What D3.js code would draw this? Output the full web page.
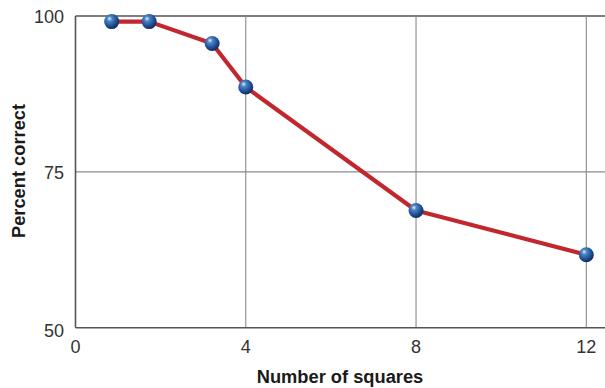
<!DOCTYPE html>
<html><head><meta charset="utf-8">
<script src="https://cdn.jsdelivr.net/npm/d3@7"></script>
<style>body{margin:0;background:#fff}svg{display:block}</style>
</head><body>
<script>
const squares = [0.85, 1.73, 3.21, 4, 8, 12];
const percentCorrect = [99.1, 99.1, 95.6, 88.6, 68.8, 61.7];
const xTicks = [0, 4, 8, 12];
const yTicks = [50, 75, 100];
const xTitle = "Number of squares";
const yTitle = "Percent correct";

const W = 605, H = 388;
const svg = d3.select("body").append("svg").attr("width", W).attr("height", H);
const defs = svg.append("defs");
const g = defs.append("radialGradient").attr("id","ball").attr("cx","40%").attr("cy","35%").attr("r","65%").attr("fx","35%").attr("fy","30%");
g.append("stop").attr("offset","0%").attr("stop-color","#e8f0ff");
g.append("stop").attr("offset","25%").attr("stop-color","#4f86c6");
g.append("stop").attr("offset","70%").attr("stop-color","#1d4f93");
g.append("stop").attr("offset","100%").attr("stop-color","#0f2d5c");

const x = d3.scaleLinear().domain([0, 12]).range([75.5, 586.3]);
const y = d3.scaleLinear().domain([50, 100]).range([327.7, 16]);
const font = "Liberation Sans, Arial, Helvetica, sans-serif";

// horizontal grid lines
svg.append("g").selectAll("line").data(yTicks.filter(d => d > 50)).join("line")
  .attr("x1", x(0)).attr("x2", W).attr("y1", d => y(d)).attr("y2", d => y(d))
  .attr("stroke", d => d === 100 ? "#555" : "#8a8a8a").attr("stroke-width", d => d === 100 ? 1.6 : 1.1);
// vertical grid lines
svg.append("g").selectAll("line").data(xTicks.filter(d => d > 0)).join("line")
  .attr("x1", d => x(d)).attr("x2", d => x(d)).attr("y1", y(100)).attr("y2", y(50))
  .attr("stroke", "#8a8a8a").attr("stroke-width", 1.1);
// axes lines
svg.append("line").attr("x1", x(0)).attr("x2", x(0)).attr("y1", y(100)).attr("y2", y(50))
  .attr("stroke", "#555").attr("stroke-width", 1.6);
svg.append("line").attr("x1", x(0)).attr("x2", W).attr("y1", y(50)).attr("y2", y(50))
  .attr("stroke", "#555").attr("stroke-width", 1.6);

// tick labels
svg.append("g").selectAll("text").data(yTicks).join("text")
  .attr("x", 64).attr("y", d => y(d) + (d === 50 ? 3 : 0.5)).attr("dy", "0.36em")
  .attr("text-anchor", "end").attr("font-family", font).attr("font-size", 18).attr("fill", "#333")
  .text(d => d);
svg.append("g").selectAll("text").data(xTicks).join("text")
  .attr("x", d => x(d)).attr("y", 347).attr("dy", "0.36em")
  .attr("text-anchor", "middle").attr("font-family", font).attr("font-size", 18).attr("fill", "#333")
  .text(d => d);

// titles
svg.append("text").attr("x", 340).attr("y", 382.5).attr("text-anchor", "middle")
  .attr("font-family", font).attr("font-size", 18.3).attr("font-weight", "bold").attr("fill", "#1a1a1a")
  .text(xTitle);
svg.append("text").attr("transform", "translate(25,171) rotate(-90)").attr("text-anchor", "middle")
  .attr("font-family", font).attr("font-size", 18.3).attr("font-weight", "bold").attr("fill", "#1a1a1a")
  .text(yTitle);

const data = squares.map((s, i) => ({s, p: percentCorrect[i]}));
svg.append("path").datum(data)
  .attr("d", d3.line().x(d => x(d.s)).y(d => y(d.p)))
  .attr("fill", "none").attr("stroke", "#c1272d").attr("stroke-width", 4.2).attr("stroke-linejoin", "round");
svg.append("g").selectAll("circle").data(data).join("circle")
  .attr("cx", d => x(d.s)).attr("cy", d => y(d.p)).attr("r", 7.5)
  .attr("fill", "url(#ball)");
</script>
</body></html>
